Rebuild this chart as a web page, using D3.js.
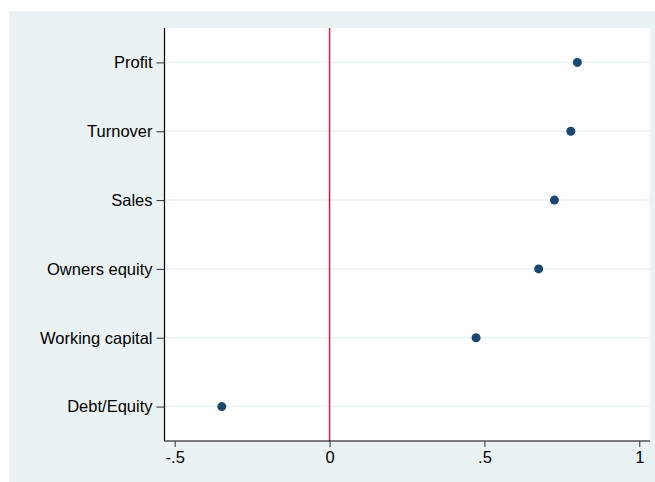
<!DOCTYPE html>
<html><head><meta charset="utf-8">
<script src="https://cdn.jsdelivr.net/npm/d3@7"></script>
<style>body{margin:0;background:#fff}svg{display:block}text{font-family:"Liberation Sans",Arial,sans-serif}</style>
</head><body>
<svg id="c" width="655" height="482"></svg>
<script>
const categories = ["Profit","Turnover","Sales","Owners equity","Working capital","Debt/Equity"];
const values = [0.800, 0.779, 0.726, 0.675, 0.473, -0.348];
const xTicks = [-0.5, 0, 0.5, 1];
const xTickLabels = ["-.5","0",".5","1"];

const svg = d3.select("#c");
svg.append("rect").attr("x",9).attr("y",11).attr("width",646).attr("height",471).attr("fill","#eaf2f3");
const L=164.5, R=650, T=28, B=441;
svg.append("rect").attr("x",L).attr("y",T).attr("width",R-L).attr("height",B-T).attr("fill","#fff");

const x = d3.scaleLinear().domain([-0.5,1]).range([174.7,639.3]);
const y = d3.scalePoint().domain(categories).range([T,B]).padding(0.5);

// grid
svg.append("g").selectAll("line").data(categories).join("line")
  .attr("x1",L).attr("x2",R).attr("y1",d=>y(d)).attr("y2",d=>y(d))
  .attr("stroke","#eaf2f3").attr("stroke-width",1.5);

// zero line
svg.append("line").attr("x1",x(0)).attr("x2",x(0)).attr("y1",T).attr("y2",B)
  .attr("stroke","#d0163f").attr("stroke-width",1.4);

// axes
const xa = svg.append("g").attr("transform",`translate(0,${B})`)
  .call(d3.axisBottom(x).tickValues(xTicks).tickFormat((d,i)=>xTickLabels[i]).tickSize(6).tickPadding(4).tickSizeOuter(0));
xa.select(".domain").attr("d",`M${L},0H${R}`);
const ya = svg.append("g").attr("transform",`translate(${L},0)`)
  .call(d3.axisLeft(y).tickSize(8).tickPadding(4).tickSizeOuter(0));
ya.select(".domain").attr("d",`M0,${T}V${B}`);
svg.selectAll(".domain").attr("stroke","#000").attr("stroke-width",1.2);
svg.selectAll(".tick line").attr("stroke","#333");
svg.selectAll(".tick text").attr("font-size",16.5).attr("fill","#000")
  .style("font-family","'Liberation Sans',Arial,sans-serif");

// points
svg.append("g").selectAll("circle").data(values).join("circle")
  .attr("cx",d=>x(d)).attr("cy",(d,i)=>y(categories[i])).attr("r",4.5).attr("fill","#1a476f");
</script>
</body></html>
